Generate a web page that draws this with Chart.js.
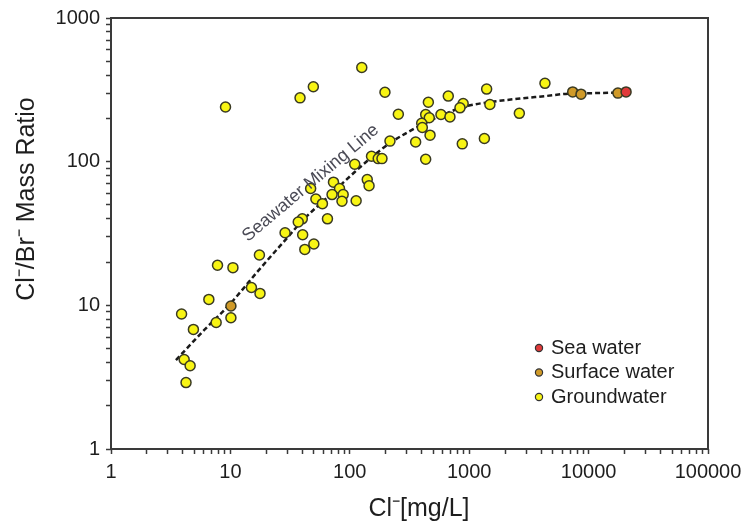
<!DOCTYPE html>
<html>
<head>
<meta charset="utf-8">
<script src="https://cdn.jsdelivr.net/npm/chart.js@4.4.1/dist/chart.umd.min.js"></script>
<style>
  body { margin: 0; background: #fff; }
  #wrap { width: 749px; height: 522px; }
</style>
</head>
<body>
<div id="wrap"><canvas id="chart"></canvas></div>
<script>
// tick labels (log axes)
const xTickLabels = [1, 10, 100, 1000, 10000, 100000];
const yTickLabels = [1, 10, 100, 1000];

// Cl- [mg/L] and Cl-/Br- mass ratio
const seaCl = [20600];
const seaRatio = [306];

const surfaceCl = [10.1, 7360, 8640, 17600];
const surfaceRatio = [9.9, 306, 295, 300];

const groundCl = [126, 49.5, 38.3, 9.1, 197, 255, 217, 152, 173, 186,
  110, 140, 145, 73, 82, 47, 71, 88, 86, 113,
  52, 59, 40, 37, 65, 28.7, 40.3, 50, 42, 17.5,
  7.8, 10.5, 15, 17.7, 6.6, 3.9, 10.1, 7.6, 4.9, 4.1,
  4.6, 4.25, 455, 668, 1400, 890, 837, 1490, 432, 463,
  580, 690, 400, 405, 470, 356, 875, 1340, 432, 2630, 4310];
const groundRatio = [452, 332, 278, 240, 304, 214, 139, 109, 105, 105,
  96, 75, 68, 72, 65, 65, 59, 59, 53, 53.5,
  55, 51, 40, 38, 40, 32, 31, 26.7, 24.5, 22.4,
  19, 18.3, 13.3, 12.1, 11, 8.7, 8.2, 7.6, 6.8, 4.2,
  3.8, 2.9, 259, 286, 320, 254, 237, 250, 213, 202,
  213, 205, 185, 173, 153, 137, 133, 145, 104, 217, 351];

// seawater mixing line
const mixCl = [3.5, 5.9, 9.9, 17, 29.8, 40.5, 69.6, 110, 153, 217,
  410, 652, 958, 1494, 2665, 4315, 6983, 11315, 19050];
const mixRatio = [4.16, 6.6, 10.2, 17.3, 29.4, 39.2, 59.5, 84.7, 107.7, 134.7,
  182.7, 218, 244, 260, 275, 286, 298, 300, 303];

const FONT = "'Liberation Sans', Arial, sans-serif";
const AXIS = "#3a3a3a";

const pairs = (xs, ys) => xs.map((x, i) => ({ x: x, y: ys[i] }));

// ticks at 1..9 x 10^n, labels only on the decades
function logTicks(decades) {
  const out = [];
  for (let d = 0; d < decades.length; d++) {
    out.push({ value: decades[d], major: true });
    if (d < decades.length - 1) {
      for (let m = 2; m <= 9; m++) out.push({ value: decades[d] * m, major: false });
    }
  }
  return out;
}

const framePlugin = {
  id: "frame",
  beforeDatasetsDraw(chart) {
    const { ctx, chartArea: a } = chart;
    ctx.save();
    ctx.strokeStyle = AXIS;
    ctx.lineWidth = 2;
    ctx.strokeRect(a.left, a.top, a.right - a.left, a.bottom - a.top);
    ctx.restore();
  },
  afterDraw(chart) {
    const { ctx } = chart;
    const x = chart.scales.x, y = chart.scales.y;
    ctx.save();
    ctx.fillStyle = "#1e1e1e";
    ctx.textAlign = "center";
    ctx.textBaseline = "middle";
    ctx.font = "25px " + FONT;
    ctx.fillText("Cl\u207B[mg/L]", 419, 509);
    ctx.translate(27, 199);
    ctx.rotate(-Math.PI / 2);
    ctx.fillText("Cl\u207B/Br\u207B Mass Ratio", 0, 0);
    ctx.restore();

    // line label
    ctx.save();
    ctx.translate(x.getPixelForValue(47), y.getPixelForValue(71));
    ctx.rotate(-40 * Math.PI / 180);
    ctx.fillStyle = "#4a4a55";
    ctx.font = "18px " + FONT;
    ctx.textAlign = "center";
    ctx.textBaseline = "middle";
    ctx.fillText("Seawater Mixing Line", 0, 0);
    ctx.restore();

    // legend inside the plot
    ctx.save();
    ctx.font = "20px " + FONT;
    ctx.textBaseline = "middle";
    chart.data.datasets.slice(0, 3).forEach((ds, i) => {
      const cy = 348 + i * 24.5;
      ctx.beginPath();
      ctx.arc(539, cy, 3.6, 0, Math.PI * 2);
      ctx.fillStyle = ds.backgroundColor;
      ctx.fill();
      ctx.lineWidth = 1.2;
      ctx.strokeStyle = "#333";
      ctx.stroke();
      ctx.fillStyle = "#1e1e1e";
      ctx.fillText(ds.label, 551, cy);
    });
    ctx.restore();
  }
};

function axis(decades, extra) {
  return Object.assign({
    type: "logarithmic",
    min: decades[0],
    max: decades[decades.length - 1],
    afterBuildTicks: (scale) => { scale.ticks = logTicks(decades); },
    border: { display: false },
    grid: {
      drawOnChartArea: false,
      drawTicks: true,
      tickLength: 5,
      tickColor: AXIS,
      tickWidth: 1.5
    },
    ticks: {
      autoSkip: false,
      maxRotation: 0,
      color: "#1e1e1e",
      font: { family: FONT, size: 20 },
      padding: 6,
      callback: (v) => (decades.indexOf(v) >= 0 ? String(v) : "")
    }
  }, extra);
}

const pointStyle = { pointRadius: 5, pointHoverRadius: 5, borderWidth: 1.5, borderColor: "#3a3a22" };

new Chart(document.getElementById("chart"), {
  type: "scatter",
  data: {
    datasets: [
      Object.assign({ label: "Sea water", data: pairs(seaCl, seaRatio), backgroundColor: "#e03a3a", order: 0 }, pointStyle),
      Object.assign({ label: "Surface water", data: pairs(surfaceCl, surfaceRatio), backgroundColor: "#d09a28", order: 1 }, pointStyle),
      Object.assign({ label: "Groundwater", data: pairs(groundCl, groundRatio), backgroundColor: "#f8f514", order: 2 }, pointStyle),
      {
        type: "line",
        label: "Seawater Mixing Line",
        data: pairs(mixCl, mixRatio),
        borderColor: "#1a1a1a",
        borderWidth: 2.5,
        borderDash: [5, 3],
        pointRadius: 0,
        fill: false,
        cubicInterpolationMode: "monotone",
        order: 3
      }
    ]
  },
  options: {
    responsive: true,
    maintainAspectRatio: false,
    animation: false,
    layout: { padding: { left: 0, top: 18, right: 41, bottom: 0 } },
    plugins: { legend: { display: false }, tooltip: { enabled: false } },
    scales: {
      x: axis(xTickLabels, { afterFit: (s) => { s.height = 73; } }),
      y: axis(yTickLabels, { afterFit: (s) => { s.width = 111; } })
    }
  },
  plugins: [framePlugin]
});
</script>
</body>
</html>
